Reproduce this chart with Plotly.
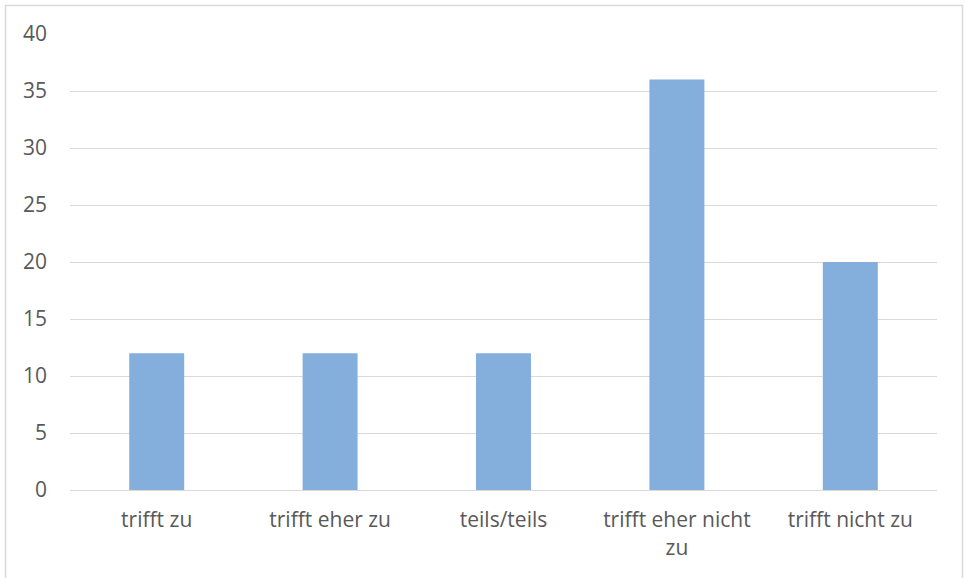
import plotly.graph_objects as go

categories = ["trifft zu", "trifft eher zu", "teils/teils", "trifft eher nicht<br>zu", "trifft nicht zu"]
values = [12, 12, 12, 36, 20]
y_ticks = [0, 5, 10, 15, 20, 25, 30, 35, 40]

W, H = 965, 578
L, R, T, B = 70, 28, 34, 88

fig = go.Figure(go.Bar(x=categories, y=values, marker=dict(color="#84AEDC", line=dict(width=0))))

fig.update_layout(
    width=W, height=H,
    margin=dict(l=L, r=R, t=T, b=B),
    paper_bgcolor="white", plot_bgcolor="white",
    bargap=0.683,
    showlegend=False,
    font=dict(family="Open Sans, Liberation Sans, sans-serif", size=21, color="#595959"),
)
fig.update_yaxes(range=[0, 40], tickvals=y_ticks, showgrid=True, gridcolor="#D9D9D9", gridwidth=1.3,
                 zeroline=False, showline=False, ticks="", ticklabelstandoff=22)
fig.update_xaxes(showline=True, linecolor="#D9D9D9", linewidth=1.3, ticks="", ticklabelstandoff=11)

# outer chart border (extends past the bottom of the image)
pw, ph = W - L - R, H - T - B
fig.add_shape(type="rect", xref="paper", yref="paper",
              x0=(5.5 - L) / pw, x1=(962.5 - L) / pw,
              y0=-(620 - (H - B)) / ph, y1=1 + (T - 5.5) / ph,
              line=dict(color="#D9D9D9", width=1.5), fillcolor="rgba(0,0,0,0)", layer="above")

fig.write_html("out.html", config={"displayModeBar": False},
               post_script="document.body.style.margin='0';")
